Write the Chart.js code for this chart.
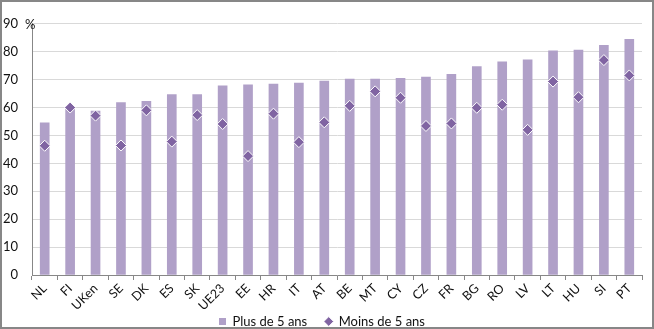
<!DOCTYPE html>
<html>
<head>
<meta charset="utf-8">
<script src="https://cdn.jsdelivr.net/npm/chart.js@4/dist/chart.umd.min.js"></script>
<style>
  html, body { margin: 0; padding: 0; background: #fff; }
  #wrap {
    width: 654px; height: 329px; box-sizing: border-box;
    border: 2px solid #878787; background: #fff;
  }
</style>
</head>
<body>
<div id="wrap"><canvas id="chart" width="650" height="325"></canvas></div>
<script>
// Countries, sorted by the "more than 5 years" share
const countries = ['NL', 'FI', 'UKen', 'SE', 'DK', 'ES', 'SK', 'UE23', 'EE', 'HR', 'IT', 'AT',
                   'BE', 'MT', 'CY', 'CZ', 'FR', 'BG', 'RO', 'LV', 'LT', 'HU', 'SI', 'PT'];
const plusDe5 = [54.5, 60.3, 58.7, 61.8, 62.2, 64.6, 64.6, 67.8, 68.1, 68.4, 68.8, 69.5,
                 70.2, 70.2, 70.5, 70.9, 71.9, 74.7, 76.4, 77.1, 80.3, 80.6, 82.3, 84.4];
const moinsDe5 = [46.3, 60.0, 57.1, 46.4, 59.0, 47.8, 57.3, 54.1, 42.6, 57.8, 47.6, 54.7,
                  60.6, 65.8, 63.5, 53.4, 54.3, 59.9, 61.0, 52.0, 69.3, 63.7, 77.0, 71.5];
const yTicks = [0, 10, 20, 30, 40, 50, 60, 70, 80, 90];

const FONT = "Lato, 'Open Sans', sans-serif";

// draws the "%" unit label beside the top of the value axis
const unitLabel = {
  id: 'unitLabel',
  afterDraw(chart) {
    const { ctx, chartArea } = chart;
    ctx.save();
    ctx.font = '13px ' + FONT;
    ctx.fillStyle = '#111';
    ctx.textBaseline = 'middle';
    ctx.fillText('%', chartArea.left - 7, chartArea.top + 1);
    ctx.restore();
  }
};

// the x axis is kept short for layout, then allowed to draw its
// rotated labels down into the legend band without being clipped
const labelOverflow = {
  id: 'labelOverflow',
  afterLayout(chart) {
    chart.scales.x.bottom = chart.height;
  }
};

new Chart(document.getElementById('chart'), {
  data: {
    labels: countries,
    datasets: [
      {
        type: 'line',
        label: 'Moins de 5 ans',
        data: moinsDe5,
        showLine: false,
        pointStyle: 'rectRot',
        pointRadius: 5.5,
        pointBorderWidth: 1,
        pointBackgroundColor: '#8064a2',
        pointBorderColor: '#ffffff',
        order: 0
      },
      {
        type: 'bar',
        label: 'Plus de 5 ans',
        data: plusDe5,
        backgroundColor: '#b0a0c8',
        barThickness: 9,
        pointStyle: 'rect',
        order: 1
      }
    ]
  },
  options: {
    responsive: false,
    animation: false,
    layout: { padding: { top: 14, right: 10, left: 0, bottom: 0 } },
    scales: {
      x: {
        afterFit(axis) { axis.height = 22; },
        grid: { drawOnChartArea: false, offset: true, tickLength: 5, color: '#878787' },
        border: { color: '#878787' },
        ticks: {
          color: '#111', font: { family: FONT, size: 12.5 },
          autoSkip: false,
          minRotation: 45, maxRotation: 45, padding: 1
        }
      },
      y: {
        min: 0, max: 90,
        afterBuildTicks(axis) { axis.ticks = yTicks.map(v => ({ value: v })); },
        afterFit(axis) { axis.width = 30; },
        grid: { color: '#d9d9d9', drawTicks: false },
        border: { color: '#878787' },
        ticks: { color: '#111', font: { family: FONT, size: 13 }, padding: 14 }
      }
    },
    plugins: {
      legend: {
        position: 'bottom',
        reverse: true,
        maxHeight: 30,
        labels: {
          usePointStyle: true,
          boxWidth: 7, boxHeight: 7,
          padding: 18,
          color: '#111',
          font: { family: FONT, size: 13 }
        }
      },
      tooltip: { enabled: false }
    }
  },
  plugins: [unitLabel, labelOverflow]
});
</script>
</body>
</html>
